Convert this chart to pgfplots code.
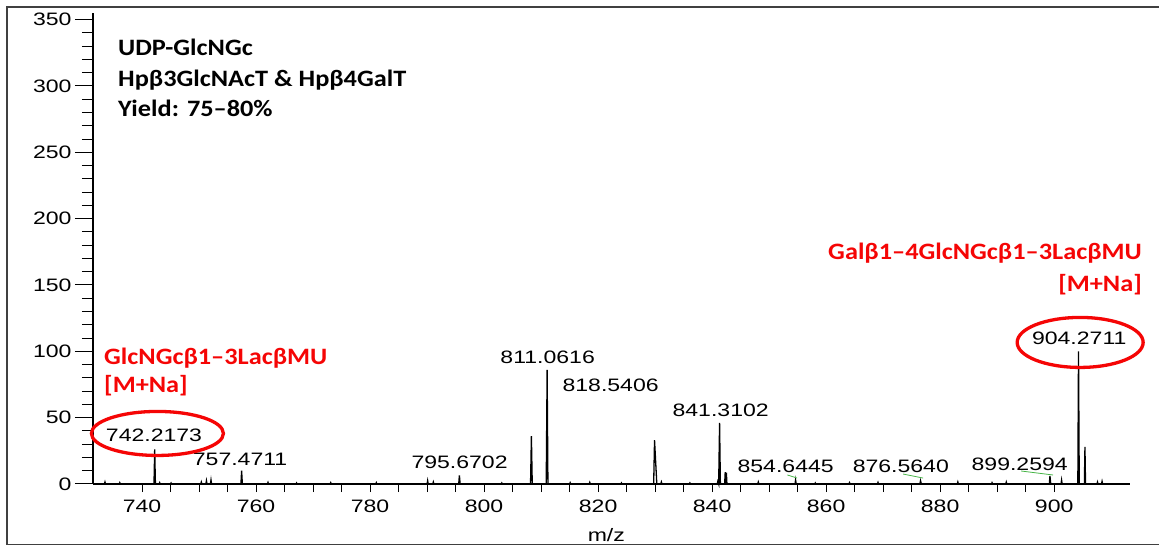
\documentclass[border=0pt]{standalone}
\usepackage{pgfplots}
\pgfplotsset{compat=1.18}
\usepackage{fontspec}
\setmainfont{Liberation Sans}
\newfontfamily\tickfont[FakeStretch=1.28]{Liberation Sans}
\newfontfamily\labfont[FakeStretch=1.12]{Carlito}
\definecolor{annred}{RGB}{245,5,5}
\definecolor{anngreen}{RGB}{70,180,70}
\newcommand{\tf}{\tickfont\fontsize{18}{20}\selectfont}
\newcommand{\lf}{\labfont\bfseries\fontsize{23.5}{26}\selectfont}
\begin{document}
\begin{tikzpicture}
\path[use as bounding box] (0,0) rectangle (1159pt,546pt);
\draw[line width=1.6pt, black!75] (1159pt,539pt) -- (7pt,539pt) -- (7pt,1.5pt) -- (1159pt,1.5pt);
\begin{axis}[at={(93pt,62pt)}, anchor=south west, scale only axis,
  width=1037pt, height=471pt,
  xmin=731.4, xmax=913.3, ymin=0, ymax=355,
  axis lines*=left, axis line style={line width=1.2pt},
  xtick=\empty, ytick={0,50,...,350}, minor y tick num=4,
  tick align=outside, major tick length=18pt, minor tick length=11pt,
  every tick/.style={line width=1pt, black},
  yticklabel style={font=\tf},
  /pgf/number format/assume math mode=true,
  clip=false]
\addplot[black, line width=1.3pt] coordinates {
(731.5,0) (733.4,0)(733.5,1.5)(733.6,0)
(736,0)(736.1,1)(736.2,0)
(742.1,0)(742.22,26)(742.35,0)
(743,0)(743.1,1)(743.2,0)
(745,0)(745.1,0.8)(745.2,0)
(750.3,0)(750.4,1.5)(750.5,0)(751.2,0)(751.3,2.5)(751.4,0)(752,0)(752.1,3)(752.2,0)
(757.35,0)(757.47,10)(757.6,0)
(762,0)(762.1,1.2)(762.2,0)
(767,0)(767.1,0.8)(767.2,0)
(773,0)(773.1,1)(773.2,0)
(781,0)(781.1,1)(781.2,0)
(790,0)(790.1,2.5)(790.2,0)
(791,0)(791.1,1.5)(791.2,0)
(795.55,0)(795.67,6.5)(795.8,0)
(803,0)(803.1,0.8)(803.2,0)
(808.15,0)(808.3,36)(808.45,0)
(810.9,0)(811.06,86)(811.2,0)
(815,0)(815.1,1)(815.2,0)
(818.45,0)(818.54,1.2)(818.65,0)
(824,0)(824.1,0.8)(824.2,0)
(829.75,0)(829.9,33)(830.3,0)
(831.0,0)(831.1,1.5)(831.2,0)
(836,0)(836.1,0.8)(836.2,0)
(840.9,0)(841.0,2)(841.15,0)(841.31,46)(841.45,0)
(842.2,0)(842.3,9)(842.4,0)(842.5,8.5)(842.6,0)
(848,0)(848.1,1.5)(848.2,0)
(854.55,0)(854.64,3)(854.75,0)
(858,0)(858.1,0.8)(858.2,0)
(864,0)(864.1,1)(864.2,0)
(869,0)(869.1,1.2)(869.2,0)
(876.45,0)(876.56,2.5)(876.7,0)
(883,0)(883.1,1.5)(883.2,0)
(889,0)(889.1,1)(889.2,0)
(891.5,0)(891.6,1.5)(891.7,0)
(899.15,0)(899.26,6)(899.4,0)
(901.2,0)(901.3,3)(901.4,0)
(904.15,0)(904.27,100)(904.4,0)
(905.3,0)(905.4,28)(905.5,0)
(907.5,0)(907.6,1.5)(907.7,0)
(908.3,0)(908.4,2)(908.5,0)
(913.3,0)
};
% green connector lines
\draw[anngreen, line width=0.8pt] (axis cs:853.2,6.8) -- (axis cs:854.9,4.5);
\draw[anngreen, line width=0.8pt] (axis cs:873.5,7.5) -- (axis cs:877.0,4.5);
\draw[anngreen, line width=0.8pt] (axis cs:894.2,9.8) -- (axis cs:899.8,6.8);
% peak labels
\node[font=\tf, inner sep=0pt] at (axis cs:742.1,36.6) {742.2173};
\node[font=\tf, inner sep=0pt] at (axis cs:757.2,18.9) {757.4711};
\node[font=\tf, inner sep=0pt] at (axis cs:795.7,16.6) {795.6702};
\node[font=\tf, inner sep=0pt] at (axis cs:811.15,95.4) {811.0616};
\node[font=\tf, inner sep=0pt] at (axis cs:822.2,74.7) {818.5406};
\node[font=\tf, inner sep=0pt] at (axis cs:841.5,55.8) {841.3102};
\node[font=\tf, inner sep=0pt] at (axis cs:852.9,13.6) {854.6445};
\node[font=\tf, inner sep=0pt] at (axis cs:873.1,13.6) {876.5640};
\node[font=\tf, inner sep=0pt] at (axis cs:893.95,15.1) {899.2594};
\node[font=\tf, inner sep=0pt] at (axis cs:904.4,109.7) {904.2711};
% ellipses
\draw[annred, line width=3.3pt] (axis cs:742.7,38.1) ellipse [x radius=66pt, y radius=22pt];
\draw[annred, line width=3.3pt] (axis cs:904.56,106.7) ellipse [x radius=63pt, y radius=25pt];
\end{axis}
\begin{axis}[at={(93pt,62pt)}, anchor=south west, scale only axis,
  width=1037pt, height=471pt,
  xmin=731.4, xmax=913.3, ymin=0, ymax=355,
  axis x line*=bottom, axis y line=none,
  axis line style={line width=1.2pt},
  xtick={740,760,...,900}, minor x tick num=3,
  tick align=outside, major tick length=8pt, minor tick length=8pt,
  every tick/.style={line width=1pt, black},
  xticklabel style={font=\tf, yshift=-4pt},
  /pgf/number format/assume math mode=true,
  /pgf/number format/1000 sep={},
  xlabel={m/z},
  xlabel style={font=\tf, at={(axis description cs:0.495,0)}, anchor=center, yshift=-51pt}]
\addplot[draw=none] coordinates {(740,0)};
\end{axis}
% text annotations
\node[font=\lf, anchor=base west, inner sep=0pt] at (118pt,490pt) {UDP-GlcNGc};
\node[font=\lf, anchor=base west, inner sep=0pt] at (118pt,459pt) {Hpβ3GlcNAcT \& Hpβ4GalT};
\node[font=\lf, anchor=base west, inner sep=0pt] at (118pt,429pt) {Yield: 75–80\%};
\node[font=\lf, text=annred, anchor=base west, inner sep=0pt] at (104pt,181pt) {GlcNGcβ1–3LacβMU};
\node[font=\lf, text=annred, anchor=base west, inner sep=0pt] at (104pt,153pt) {[M+Na]};
\node[font=\lf, text=annred, anchor=base east, inner sep=0pt] at (1142pt,286pt) {Galβ1–4GlcNGcβ1–3LacβMU};
\node[font=\lf, text=annred, anchor=base east, inner sep=0pt] at (1142pt,254pt) {[M+Na]};
\end{tikzpicture}
\end{document}
